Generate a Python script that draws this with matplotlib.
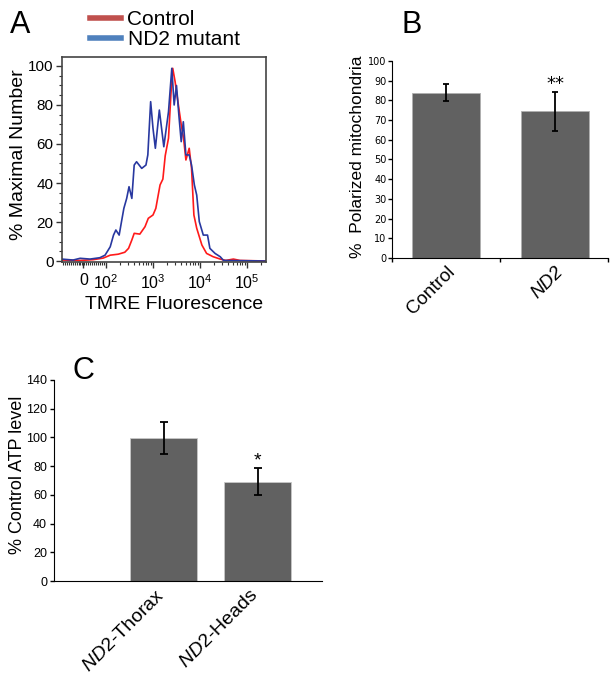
import matplotlib
matplotlib.use("Agg")
import matplotlib.pyplot as plt
from matplotlib.lines import Line2D
from matplotlib.transforms import ScaledTranslation
import numpy as np

plt.rcParams['font.family'] = ['Liberation Sans', 'DejaVu Sans']
plt.rcParams['mathtext.fontset'] = 'custom'
plt.rcParams['mathtext.rm'] = 'Liberation Sans'
plt.rcParams['mathtext.it'] = 'Liberation Sans:italic'

# Panel A: histogram traces, x in display decades (0 sits at 1.52)
ctrl_x = [1.06, 1.45, 1.73, 1.94, 2.09, 2.26, 2.40, 2.48, 2.55, 2.60, 2.72, 2.83, 2.90,
          3.00, 3.06, 3.15, 3.21, 3.26, 3.33, 3.38, 3.42, 3.47, 3.54, 3.60, 3.65, 3.70,
          3.77, 3.82, 3.87, 3.93, 4.04, 4.14, 4.28, 4.43, 4.55, 4.71, 4.85, 5.42]
ctrl_y = [0.5, 0.3, 0.7, 1.5, 3.0, 3.5, 4.5, 6.5, 10.8, 14.2, 13.8, 17.6, 21.9,
          23.6, 27.0, 39.0, 42.0, 54.0, 63.0, 85.0, 98.8, 92.0, 80.0, 70.0, 63.0, 51.8,
          57.8, 47.5, 23.6, 16.8, 8.2, 3.9, 2.2, 1.0, 0.3, 1.0, 0.3, 0.0]
nd2_x = [1.06, 1.30, 1.45, 1.66, 1.87, 1.98, 2.09, 2.16, 2.21, 2.28, 2.33, 2.38, 2.44,
         2.49, 2.55, 2.60, 2.65, 2.76, 2.85, 2.89, 2.95, 3.00, 3.05, 3.135, 3.23, 3.33,
         3.40, 3.45, 3.50, 3.55, 3.60, 3.645, 3.70, 3.77, 3.82, 3.88, 3.93, 3.985, 4.07,
         4.16, 4.21, 4.32, 4.43, 4.50, 5.42]
nd2_y = [1.0, 0.5, 1.4, 1.0, 1.7, 3.0, 7.3, 13.3, 15.9, 13.3, 20.2, 27.0, 32.1,
         38.1, 32.1, 49.2, 50.9, 47.5, 49.2, 54.4, 81.7, 68.0, 57.8, 77.4, 58.6, 76.6,
         98.8, 80.0, 90.0, 74.9, 61.2, 71.4, 54.4, 54.4, 49.2, 39.0, 33.8, 20.2, 13.3,
         13.3, 6.5, 3.9, 2.2, 0.3, 0.0]
a_tick_pos = [1.52, 2, 3, 4, 5]
a_tick_labels = ['0', '$10^{2}$', '$10^{3}$', '$10^{4}$', '$10^{5}$']

# Panel B
b_groups = ['Control', 'ND2']
b_values = [84.0, 74.5]
b_errors = [4.3, 10.0]

# Panel C
c_groups = ['$\\mathit{ND2}$-Thorax', '$\\mathit{ND2}$-Heads']
c_values = [99.6, 69.3]
c_errors = [11.0, 9.5]

W, H = 616, 678
fig = plt.figure(figsize=(W / 100, H / 100), dpi=100)


def box(l, t, r, b):
    return [l / W, 1 - b / H, (r - l) / W, (b - t) / H]


bar_color = '#616161'

# ---------- A ----------
axA = fig.add_axes(box(62, 57, 266, 262))
axA.plot(ctrl_x, ctrl_y, color='#ff1a1a', lw=1.2)
axA.plot(nd2_x, nd2_y, color='#2838a0', lw=1.2)
axA.set_xlim(1.064, 5.404)
axA.set_ylim(-0.5, 104.6)
axA.set_yticks([0, 20, 40, 60, 80, 100])
axA.set_yticks(np.arange(0, 105, 5), minor=True)
axA.set_xticks(a_tick_pos, labels=a_tick_labels)
minor = list(np.linspace(1.08, 1.96, 22))
for d in [2, 3, 4, 5]:
    for k in range(2, 10):
        p = d + np.log10(k)
        if p < 5.4:
            minor.append(p)
axA.set_xticks(minor, minor=True)
axA.tick_params(axis='both', which='major', direction='out', length=4, width=1, color='#333333')
axA.tick_params(axis='both', which='minor', direction='out', length=2.5, width=0.8, color='#333333')
axA.tick_params(axis='y', labelsize=11, pad=2)
axA.tick_params(axis='x', labelsize=11.5, pad=4)
for s in axA.spines.values():
    s.set_color('#444444')
    s.set_linewidth(1.2)
axA.set_ylabel('% Maximal Number', fontsize=14)
axA.yaxis.set_label_coords(-0.172, 0.522)
axA.set_xlabel('TMRE Fluorescence', fontsize=14)
axA.xaxis.set_label_coords(0.549, -0.166)

handles = [Line2D([], [], color='#c0504d', lw=4),
           Line2D([], [], color='#4f81bd', lw=4)]
fig.legend(handles, ['Control', 'ND2 mutant'], loc='upper left',
           bbox_to_anchor=(90 / W, 1 - 10 / H), frameon=False, fontsize=15,
           handlelength=1.5, handletextpad=0.3, labelspacing=0.05,
           borderpad=0, borderaxespad=0)

# ---------- B ----------
axB = fig.add_axes(box(392, 61, 608, 258))
xb = np.arange(len(b_groups))
axB.bar(xb, b_values, width=0.63, color=bar_color, edgecolor='#b0b0b0', linewidth=0.6)
axB.errorbar(xb, b_values, yerr=b_errors, fmt='none', ecolor='black', elinewidth=1.3, capsize=2, capthick=1.3)
axB.text(1, 85.8, '**', ha='center', va='baseline', fontsize=13, family='DejaVu Sans')
axB.set_xlim(-0.495, 1.486)
axB.set_ylim(0, 100)
axB.set_yticks(np.arange(0, 101, 10))
axB.set_xticks(xb, labels=b_groups, rotation=45, ha='right', rotation_mode='anchor', fontsize=13.5)
axB.get_xticklabels()[1].set_fontstyle('italic')
axB.set_xticks([-0.495, 0.5, 1.486], minor=True)
axB.tick_params(axis='x', which='major', length=0, pad=4)
axB.tick_params(axis='x', which='minor', length=3, width=1)
axB.tick_params(axis='y', length=3, width=1, labelsize=7, pad=1)
for lab in axB.get_yticklabels():
    lab.set_family('DejaVu Sans')
axB.spines['top'].set_visible(False)
axB.spines['right'].set_visible(False)
axB.set_ylabel('%  Polarized mitochondria', fontsize=12.5)
axB.yaxis.set_label_coords(-0.125, 0.513)

# ---------- C ----------
axC = fig.add_axes(box(54, 380, 322, 581))
xc = np.arange(len(c_groups))
axC.bar(xc, c_values, width=0.71, color=bar_color, edgecolor='#c8c8c8', linewidth=0.6)
axC.errorbar(xc, c_values, yerr=c_errors, fmt='none', ecolor='black', elinewidth=1.3, capsize=3, capthick=1.3)
axC.text(1, 80.5, '*', ha='center', va='baseline', fontsize=14)
axC.set_xlim(-1.165, 1.686)
axC.set_ylim(0, 140)
axC.set_yticks(np.arange(0, 141, 20))
axC.set_xticks(xc, labels=c_groups, rotation=45, ha='right', rotation_mode='anchor', fontsize=14)
axC.tick_params(axis='x', length=0, pad=4)
shift = ScaledTranslation(-8 / 100, 0, fig.dpi_scale_trans)
for lab in axC.get_xticklabels():
    lab.set_transform(lab.get_transform() + shift)
axC.tick_params(axis='y', length=3, width=1, labelsize=9, pad=2)
axC.spines['top'].set_visible(False)
axC.spines['right'].set_visible(False)
axC.set_ylabel('% Control ATP level', fontsize=13)
axC.yaxis.set_label_coords(-0.104, 0.527)

# panel letters
fig.text(10 / W, 1 - 10 / H, 'A', fontsize=22, va='top', ha='left')
fig.text(402 / W, 1 - 10 / H, 'B', fontsize=22, va='top', ha='left')
fig.text(72 / W, 1 - 356 / H, 'C', fontsize=22, va='top', ha='left')

fig.savefig('out.png', dpi=100)
